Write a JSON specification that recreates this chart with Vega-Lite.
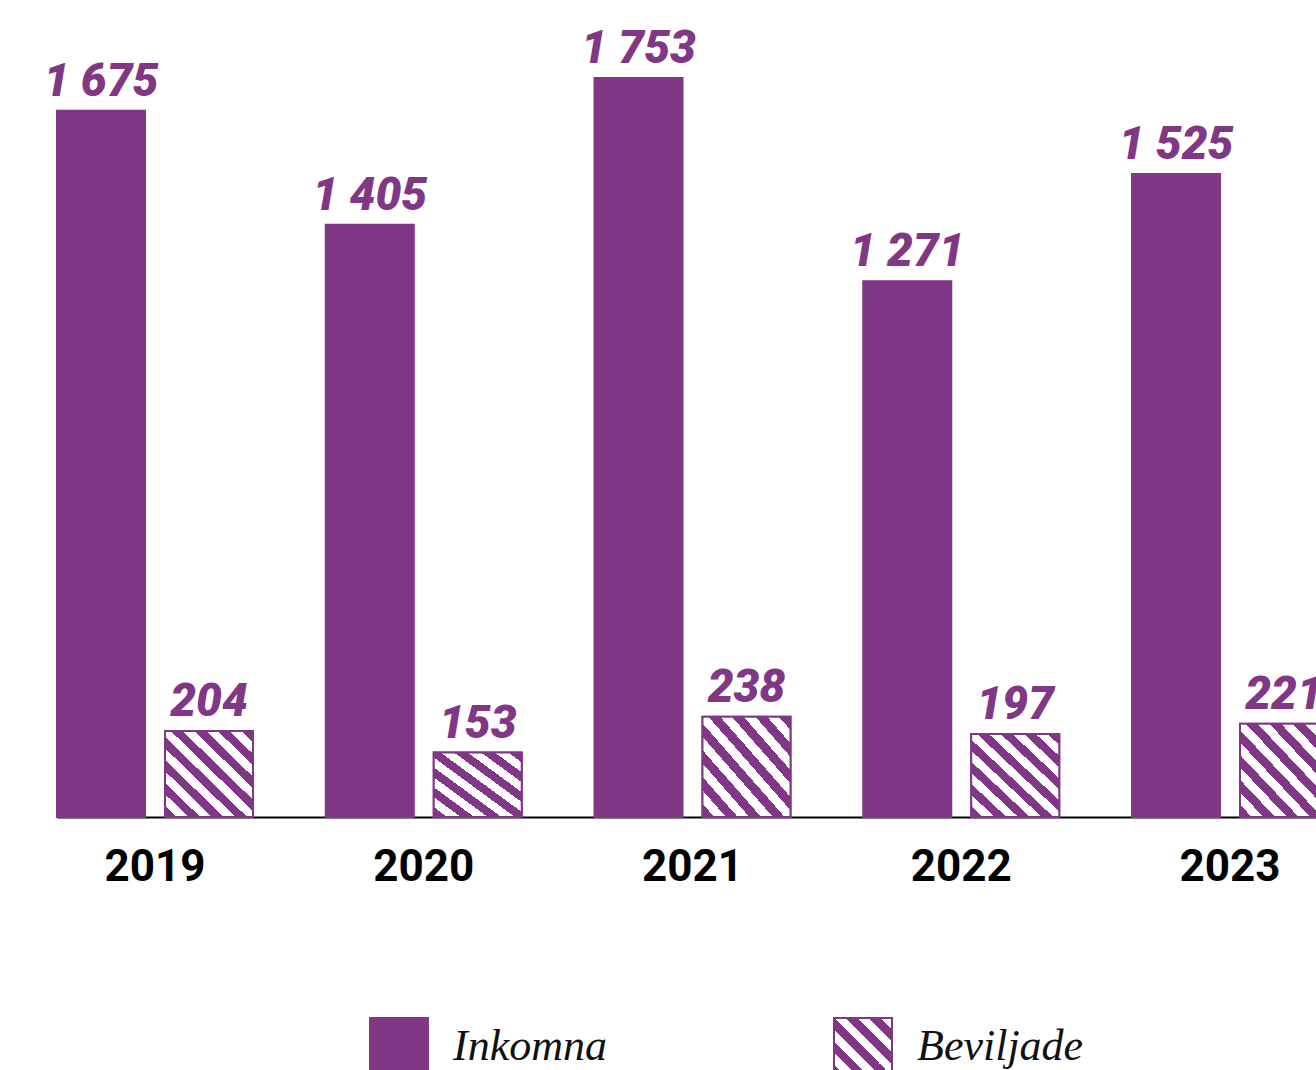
{
  "$schema": "https://vega.github.io/schema/vega-lite/v6.json",
  "width": 1259,
  "height": 817,
  "autosize": {"type": "none"},
  "padding": {"left": 57, "top": 0, "right": 0, "bottom": 253},
  "config": {
    "view": {"stroke": null},
    "locale": {"number": {"decimal": ",", "thousands": " ", "grouping": [3], "currency": ["", " kr"]}},
    "legend": {
      "title": null, "orient": "none", "direction": "horizontal",
      "symbolType": "square", "symbolSize": 3364, "symbolStrokeWidth": 2,
      "labelFont": "Liberation Serif", "labelFontStyle": "italic", "labelFontSize": 44,
      "labelColor": "#111111", "labelOffset": 24, "labelLimit": 400
    }
  },
  "data": {
    "values": [
      {"year": "2019", "serie": "Inkomna", "value": 1675},
      {"year": "2019", "serie": "Beviljade", "value": 204},
      {"year": "2020", "serie": "Inkomna", "value": 1405},
      {"year": "2020", "serie": "Beviljade", "value": 153},
      {"year": "2021", "serie": "Inkomna", "value": 1753},
      {"year": "2021", "serie": "Beviljade", "value": 238},
      {"year": "2022", "serie": "Inkomna", "value": 1271},
      {"year": "2022", "serie": "Beviljade", "value": 197},
      {"year": "2023", "serie": "Inkomna", "value": 1525},
      {"year": "2023", "serie": "Beviljade", "value": 221}
    ]
  },
  "encoding": {
    "x": {
      "field": "year", "type": "nominal",
      "scale": {"range": [0, 1271], "paddingInner": 0.2707, "paddingOuter": 0},
      "axis": {
        "title": null, "labelAngle": 0, "ticks": false,
        "domainColor": "#000000", "domainWidth": 2,
        "labelFont": "Roboto", "labelFontWeight": "bold", "labelFontSize": 44,
        "labelColor": "#000000", "labelPadding": 28
      }
    },
    "xOffset": {
      "field": "serie", "type": "nominal",
      "scale": {"domain": ["Inkomna", "Beviljade"], "paddingInner": 0.185, "paddingOuter": 0}
    },
    "y": {
      "field": "value", "type": "quantitative",
      "scale": {"domain": [0, 1938], "nice": false},
      "axis": null
    }
  },
  "layer": [
    {
      "mark": {"type": "bar", "strokeWidth": 2, "fill": "#7f3786"},
      "encoding": {
        "stroke": {
          "field": "serie", "type": "nominal",
          "scale": {"domain": ["Inkomna", "Beviljade"], "range": ["#7f3786", "#7f3786"]},
          "legend": {"values": ["Inkomna"], "legendX": 312, "legendY": 1017}
        }
      }
    },
    {
      "transform": [{"filter": "datum.serie === 'Beviljade'"}],
      "mark": {"type": "bar", "strokeWidth": 2, "stroke": "#7f3786"},
      "encoding": {
        "fill": {
          "condition": [
            {
              "test": "datum.year === '2020'",
              "value": {
                "gradient": "linear", "x1": 0, "y1": 1, "x2": 1, "y2": 0,
                "stops": [
                  {"offset": 0, "color": "#7f3786"}, {"offset": 0.0769, "color": "#7f3786"},
                  {"offset": 0.0769, "color": "#ffffff"}, {"offset": 0.1538, "color": "#ffffff"},
                  {"offset": 0.1538, "color": "#7f3786"}, {"offset": 0.2308, "color": "#7f3786"},
                  {"offset": 0.2308, "color": "#ffffff"}, {"offset": 0.3077, "color": "#ffffff"},
                  {"offset": 0.3077, "color": "#7f3786"}, {"offset": 0.3846, "color": "#7f3786"},
                  {"offset": 0.3846, "color": "#ffffff"}, {"offset": 0.4615, "color": "#ffffff"},
                  {"offset": 0.4615, "color": "#7f3786"}, {"offset": 0.5385, "color": "#7f3786"},
                  {"offset": 0.5385, "color": "#ffffff"}, {"offset": 0.6154, "color": "#ffffff"},
                  {"offset": 0.6154, "color": "#7f3786"}, {"offset": 0.6923, "color": "#7f3786"},
                  {"offset": 0.6923, "color": "#ffffff"}, {"offset": 0.7692, "color": "#ffffff"},
                  {"offset": 0.7692, "color": "#7f3786"}, {"offset": 0.8462, "color": "#7f3786"},
                  {"offset": 0.8462, "color": "#ffffff"}, {"offset": 0.9231, "color": "#ffffff"},
                  {"offset": 0.9231, "color": "#7f3786"}, {"offset": 1, "color": "#7f3786"}
                ]
              }
            },
            {
              "test": "datum.year !== '2020'",
              "value": {
                "gradient": "linear", "x1": 0, "y1": 1, "x2": 1, "y2": 0,
                "stops": [
                  {"offset": 0, "color": "#7f3786"}, {"offset": 0.0667, "color": "#7f3786"},
                  {"offset": 0.0667, "color": "#ffffff"}, {"offset": 0.1333, "color": "#ffffff"},
                  {"offset": 0.1333, "color": "#7f3786"}, {"offset": 0.2, "color": "#7f3786"},
                  {"offset": 0.2, "color": "#ffffff"}, {"offset": 0.2667, "color": "#ffffff"},
                  {"offset": 0.2667, "color": "#7f3786"}, {"offset": 0.3333, "color": "#7f3786"},
                  {"offset": 0.3333, "color": "#ffffff"}, {"offset": 0.4, "color": "#ffffff"},
                  {"offset": 0.4, "color": "#7f3786"}, {"offset": 0.4667, "color": "#7f3786"},
                  {"offset": 0.4667, "color": "#ffffff"}, {"offset": 0.5333, "color": "#ffffff"},
                  {"offset": 0.5333, "color": "#7f3786"}, {"offset": 0.6, "color": "#7f3786"},
                  {"offset": 0.6, "color": "#ffffff"}, {"offset": 0.6667, "color": "#ffffff"},
                  {"offset": 0.6667, "color": "#7f3786"}, {"offset": 0.7333, "color": "#7f3786"},
                  {"offset": 0.7333, "color": "#ffffff"}, {"offset": 0.8, "color": "#ffffff"},
                  {"offset": 0.8, "color": "#7f3786"}, {"offset": 0.8667, "color": "#7f3786"},
                  {"offset": 0.8667, "color": "#ffffff"}, {"offset": 0.9333, "color": "#ffffff"},
                  {"offset": 0.9333, "color": "#7f3786"}, {"offset": 1, "color": "#7f3786"}
                ]
              }
            }
          ],
          "value": {
            "gradient": "linear", "x1": 0, "y1": 1, "x2": 1, "y2": 0,
            "stops": [
              {"offset": 0, "color": "#7f3786"}, {"offset": 0.1, "color": "#7f3786"},
              {"offset": 0.1, "color": "#ffffff"}, {"offset": 0.2, "color": "#ffffff"},
              {"offset": 0.2, "color": "#7f3786"}, {"offset": 0.3, "color": "#7f3786"},
              {"offset": 0.3, "color": "#ffffff"}, {"offset": 0.4, "color": "#ffffff"},
              {"offset": 0.4, "color": "#7f3786"}, {"offset": 0.5, "color": "#7f3786"},
              {"offset": 0.5, "color": "#ffffff"}, {"offset": 0.6, "color": "#ffffff"},
              {"offset": 0.6, "color": "#7f3786"}, {"offset": 0.7, "color": "#7f3786"},
              {"offset": 0.7, "color": "#ffffff"}, {"offset": 0.8, "color": "#ffffff"},
              {"offset": 0.8, "color": "#7f3786"}, {"offset": 0.9, "color": "#7f3786"},
              {"offset": 0.9, "color": "#ffffff"}, {"offset": 1, "color": "#ffffff"}
            ]
          }
        },
        "opacity": {
          "field": "serie", "type": "ordinal",
          "scale": {"domain": ["Beviljade"], "range": [1, 1]},
          "legend": {"values": ["Beviljade"], "legendX": 776, "legendY": 1017}
        }
      }
    },
    {
      "mark": {
        "type": "text", "dy": -15, "baseline": "alphabetic", "align": "center",
        "font": "Roboto", "fontStyle": "italic", "fontWeight": 900, "fontSize": 46, "color": "#7f3786"
      },
      "encoding": {
        "text": {"field": "value", "type": "quantitative", "format": ",d"}
      }
    }
  ]
}
